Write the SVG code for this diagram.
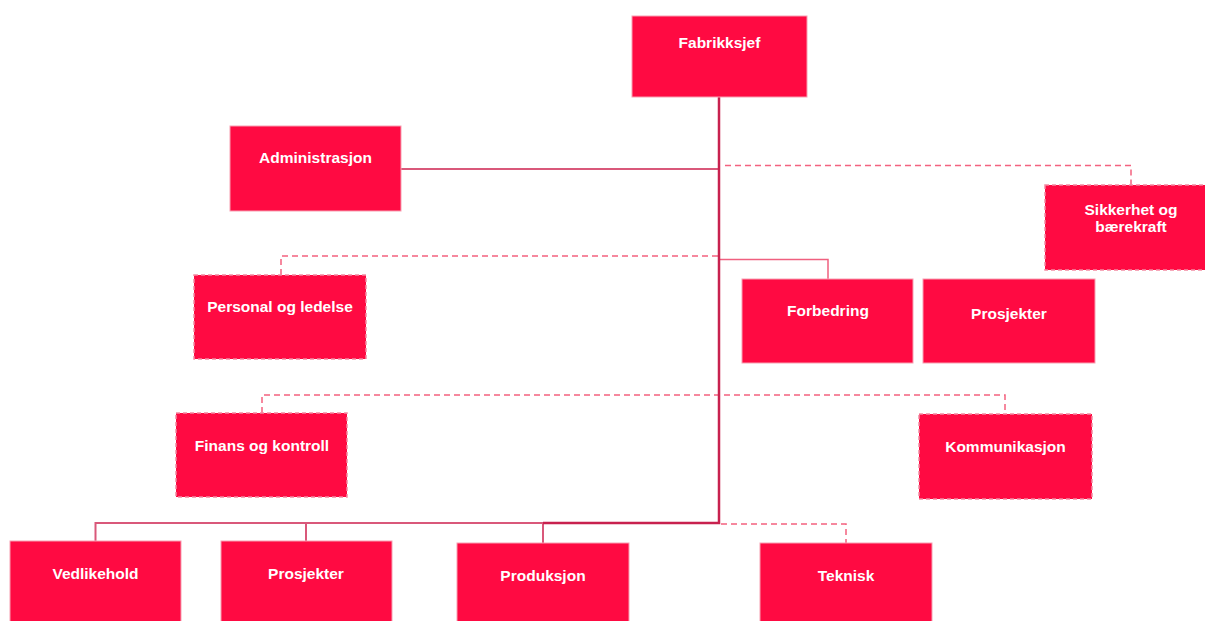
<svg xmlns="http://www.w3.org/2000/svg" width="1205" height="621" viewBox="0 0 1205 621">
<style>
.box{fill:#ff0a42;stroke:#f7a0b2;stroke-width:1}
.dbox{fill:#ff0a42;stroke:#f48aa2;stroke-width:1.5;stroke-dasharray:4 3}
.t{font-family:"Liberation Sans",Arial,sans-serif;font-weight:bold;font-size:15.5px;fill:#ffffff;text-anchor:middle}
.trunk{stroke:#c8214e;stroke-width:2.5;fill:none}
.solid{stroke:#d9587a;stroke-width:2;fill:none}
.solid2{stroke:#f0607f;stroke-width:1.5;fill:none}
.dash{stroke:#f4627f;stroke-width:1.5;fill:none;stroke-dasharray:6 4}
</style>
<rect width="1205" height="621" fill="#ffffff"/>
<g id="connectors">
<path class="solid" d="M401 169 H719"/>
<path class="dash" d="M725 165.5 H1131 V185"/>
<path class="dash" d="M718 256 H281 V275"/>
<path class="solid2" d="M720 259.5 H828 V279"/>
<path class="dash" d="M262 413 V395 H1005 V414"/>
<path class="solid" d="M543 523 H95.5 V541"/>
<path class="solid" d="M306 523 V541"/>
<path class="solid" d="M543 523 V543"/>
<path class="dash" d="M721 524 H846 V543"/>
<path class="trunk" d="M719 97 V523 H543"/>
</g>
<g id="fabrikksjef"><rect class="box" x="632" y="16" width="175" height="81"/><text class="t" x="719.5" y="48">Fabrikksjef</text></g>
<g id="administrasjon"><rect class="box" x="230" y="126" width="171" height="85"/><text class="t" x="315.5" y="163">Administrasjon</text></g>
<g id="sikkerhet"><rect class="dbox" x="1045" y="185" width="162" height="85"/><text class="t" x="1131" y="215">Sikkerhet og</text><text class="t" x="1131" y="232">bærekraft</text></g>
<g id="personal"><rect class="dbox" x="194" y="275" width="172" height="84"/><text class="t" x="280" y="311.5">Personal og ledelse</text></g>
<g id="forbedring"><rect class="box" x="742" y="279" width="171" height="84"/><text class="t" x="828" y="316">Forbedring</text></g>
<g id="prosjekter1"><rect class="box" x="923" y="279" width="172" height="84"/><text class="t" x="1009" y="319">Prosjekter</text></g>
<g id="finans"><rect class="dbox" x="176" y="413" width="171" height="84"/><text class="t" x="262" y="451">Finans og kontroll</text></g>
<g id="kommunikasjon"><rect class="dbox" x="919" y="414" width="173" height="85"/><text class="t" x="1005.5" y="452">Kommunikasjon</text></g>
<g id="vedlikehold"><rect class="box" x="10" y="541" width="171" height="82"/><text class="t" x="95.5" y="579">Vedlikehold</text></g>
<g id="prosjekter2"><rect class="box" x="221" y="541" width="171" height="82"/><text class="t" x="306" y="579">Prosjekter</text></g>
<g id="produksjon"><rect class="box" x="457" y="543" width="172" height="80"/><text class="t" x="543" y="581">Produksjon</text></g>
<g id="teknisk"><rect class="box" x="760" y="543" width="172" height="80"/><text class="t" x="846" y="581">Teknisk</text></g>
</svg>
